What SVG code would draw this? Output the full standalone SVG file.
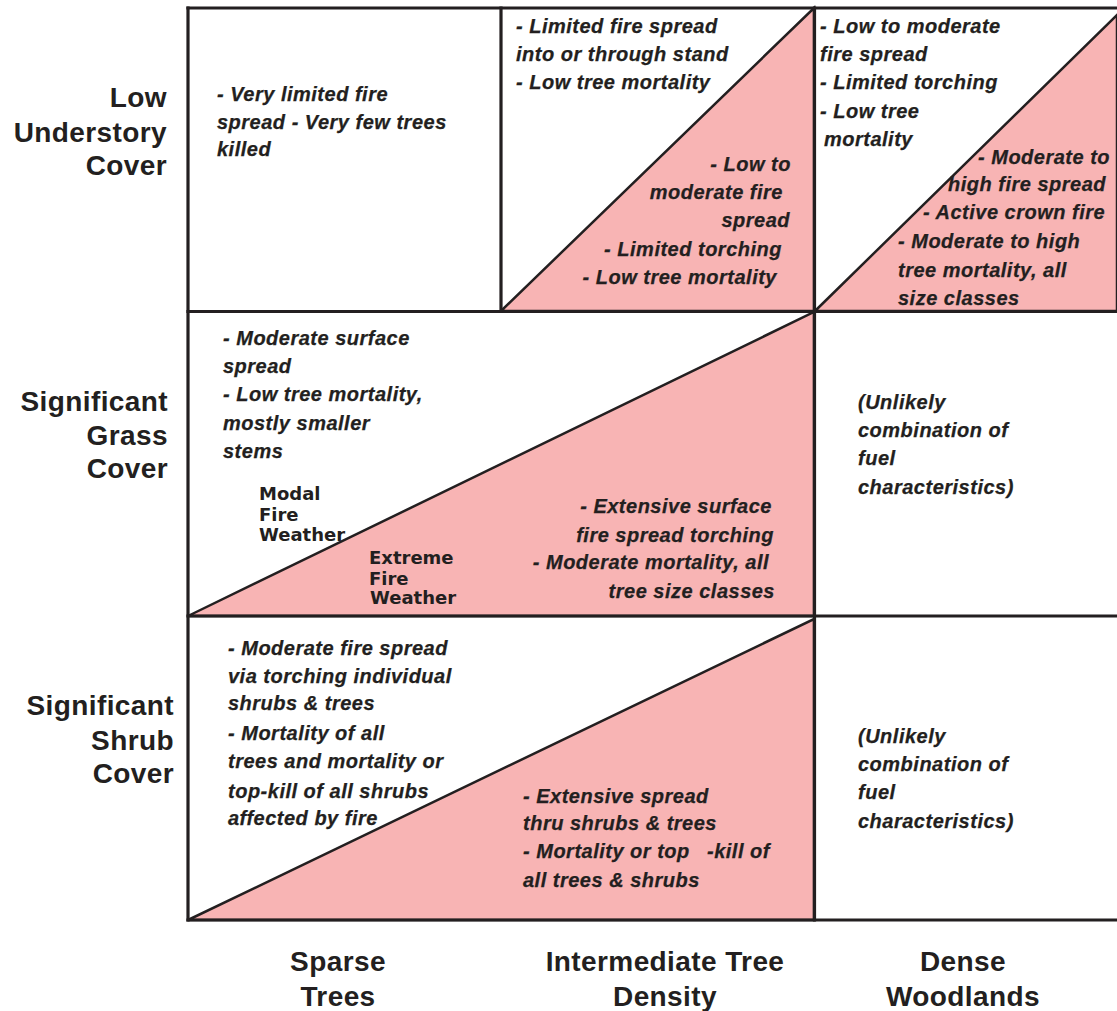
<svg xmlns="http://www.w3.org/2000/svg" width="1117" height="1011" viewBox="0 0 1117 1011">
<style>
.bg{fill:#ffffff}
.pink{fill:#f8b4b4;stroke:#231f20;stroke-width:2.5;stroke-linejoin:miter}
.grid{stroke:#231f20;stroke-width:3.2;fill:none;stroke-linecap:square}
.t{font-family:"Liberation Sans",Arial,Helvetica,sans-serif;font-weight:bold;font-style:italic;font-size:20px;letter-spacing:0.5px;fill:#231f20;stroke:#231f20;stroke-width:0.25px}
.e{text-anchor:end}
.w{font-family:"DejaVu Sans",Verdana,sans-serif;font-weight:bold;font-size:18px;fill:#231f20}
.lab{font-family:"Liberation Sans",Arial,Helvetica,sans-serif;font-weight:bold;font-size:28px;letter-spacing:0.4px;fill:#231f20}
.c{text-anchor:middle}
</style>
<rect class="bg" x="0" y="0" width="1117" height="1011"/>

<g id="shading">
<polygon class="pink" points="501,311 814,8 814,311"/>
<polygon class="pink" points="815,311 1117,15 1117,311"/>
<polygon class="pink" points="188,616 814,312 814,616"/>
<polygon class="pink" points="188,920 814,619 814,920"/>
</g>

<g id="connectors">
<line class="grid" x1="188" y1="8" x2="1117" y2="8"/>
<line class="grid" x1="188" y1="311.5" x2="1117" y2="311.5"/>
<line class="grid" x1="188" y1="616" x2="1117" y2="616"/>
<line class="grid" x1="188" y1="920" x2="1117" y2="920"/>
<line class="grid" x1="188" y1="8" x2="188" y2="920"/>
<line class="grid" x1="501" y1="8" x2="501" y2="311"/>
<line class="grid" x1="814.5" y1="8" x2="814.5" y2="920"/>
</g>

<g id="row-labels">
<g id="row-low-understory">
<text class="lab e" x="167" y="107">Low</text>
<text class="lab e" x="167" y="142">Understory</text>
<text class="lab e" x="167" y="175">Cover</text>
</g>
<g id="row-grass">
<text class="lab e" x="168" y="411">Significant</text>
<text class="lab e" x="168" y="445">Grass</text>
<text class="lab e" x="168" y="478">Cover</text>
</g>
<g id="row-shrub">
<text class="lab e" x="174" y="715">Significant</text>
<text class="lab e" x="174" y="750">Shrub</text>
<text class="lab e" x="174" y="783">Cover</text>
</g>
</g>

<g id="col-labels">
<g id="col-sparse">
<text class="lab c" x="338" y="971">Sparse</text>
<text class="lab c" x="338" y="1006">Trees</text>
</g>
<g id="col-intermediate">
<text class="lab c" x="665" y="971">Intermediate Tree</text>
<text class="lab c" x="665" y="1006">Density</text>
</g>
<g id="col-dense">
<text class="lab c" x="963" y="971">Dense</text>
<text class="lab c" x="963" y="1006">Woodlands</text>
</g>
</g>

<g id="cell-r1c1">
<text class="t" x="217" y="101">- Very limited fire</text>
<text class="t" x="217" y="129">spread  - Very few trees</text>
<text class="t" x="217" y="156">killed</text>
</g>

<g id="cell-r1c2">
<text class="t" x="516" y="33">- Limited fire spread</text>
<text class="t" x="516" y="61">into or through stand</text>
<text class="t" x="516" y="89">- Low tree mortality</text>
<text class="t e" x="791" y="171">- Low to</text>
<text class="t e" x="783" y="199">moderate fire</text>
<text class="t e" x="790" y="227">spread</text>
<text class="t e" x="782" y="256">- Limited torching</text>
<text class="t e" x="777" y="284">- Low tree mortality</text>
</g>

<g id="cell-r1c3">
<text class="t" x="820" y="33">- Low to moderate</text>
<text class="t" x="820" y="61">fire spread</text>
<text class="t" x="820" y="89">- Limited torching</text>
<text class="t" x="820" y="118">- Low tree</text>
<text class="t" x="824" y="146">mortality</text>
<text class="t" x="978" y="164">- Moderate to</text>
<text class="t" x="948" y="191">high fire spread</text>
<text class="t" x="923" y="219">- Active crown fire</text>
<text class="t" x="898" y="248">- Moderate to high</text>
<text class="t" x="898" y="277">tree mortality, all</text>
<text class="t" x="898" y="305">size classes</text>
</g>

<g id="cell-r2c12">
<text class="t" x="223" y="345">- Moderate surface</text>
<text class="t" x="223" y="373">spread</text>
<text class="t" x="223" y="401">- Low tree mortality,</text>
<text class="t" x="223" y="430">mostly smaller</text>
<text class="t" x="223" y="458">stems</text>
<text class="w" x="259" y="500">Modal</text>
<text class="w" x="259" y="521">Fire</text>
<text class="w" x="259" y="541">Weather</text>
<text class="w" x="369" y="564">Extreme</text>
<text class="w" x="369" y="585">Fire</text>
<text class="w" x="370" y="604">Weather</text>
<text class="t e" x="772" y="513">-  Extensive surface</text>
<text class="t e" x="774" y="542">fire spread torching</text>
<text class="t e" x="769" y="569">- Moderate mortality, all</text>
<text class="t e" x="775" y="598">tree size classes</text>
</g>

<g id="cell-r2c3">
<text class="t" x="858" y="409">(Unlikely</text>
<text class="t" x="858" y="437">combination of</text>
<text class="t" x="858" y="465">fuel</text>
<text class="t" x="858" y="494">characteristics)</text>
</g>

<g id="cell-r3c12">
<text class="t" x="228" y="655">- Moderate fire spread</text>
<text class="t" x="228" y="683">via torching individual</text>
<text class="t" x="228" y="710">shrubs &amp; trees</text>
<text class="t" x="228" y="740">- Mortality of all</text>
<text class="t" x="228" y="768">trees and mortality or</text>
<text class="t" x="228" y="798">top-kill of all shrubs</text>
<text class="t" x="228" y="825">affected by fire</text>
<text class="t" x="523" y="803">- Extensive spread</text>
<text class="t" x="523" y="830">thru shrubs &amp; trees</text>
<text class="t" x="523" y="858">- Mortality or top</text>
<text class="t" x="707" y="858">-kill of</text>
<text class="t" x="523" y="887">all trees &amp; shrubs</text>
</g>

<g id="cell-r3c3">
<text class="t" x="858" y="743">(Unlikely</text>
<text class="t" x="858" y="771">combination of</text>
<text class="t" x="858" y="799">fuel</text>
<text class="t" x="858" y="828">characteristics)</text>
</g>
</svg>
